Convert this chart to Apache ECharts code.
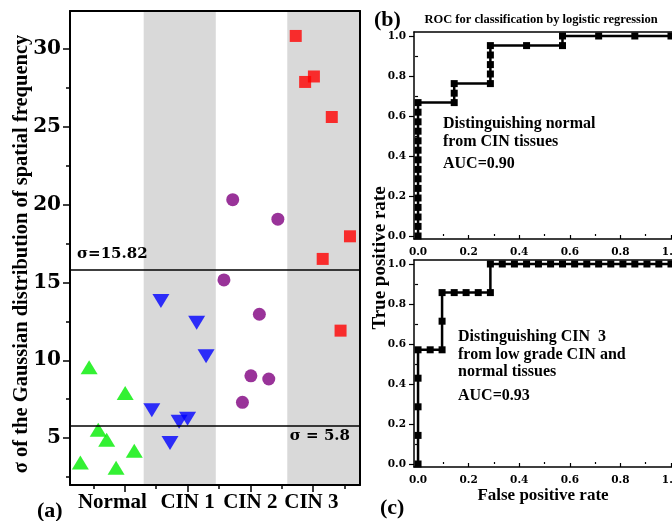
<!DOCTYPE html>
<html>
<head>
<meta charset="utf-8">
<script src="https://cdn.jsdelivr.net/npm/echarts@6/dist/echarts.min.js"></script>
<style>html,body{margin:0;padding:0;background:#fff;}#c{width:672px;height:521px;}</style>
</head>
<body>
<div id="c"></div>
<script>
// ---------- Panel (a) data ----------
const categories = ['Normal', 'CIN 1', 'CIN 2', 'CIN 3'];
const categoryLabelPos = [1.6, 4, 6, 7.95];
const bandEdges = [0.25, 2.6, 4.9, 7.18, 9.5];
const normalX = [0.58, 0.86, 1.15, 1.42, 1.72, 2.01, 2.30];
const normalY = [3.45, 9.55, 5.55, 4.9, 3.1, 7.9, 4.2];
const cin1X = [2.86, 3.15, 3.44, 3.73, 4.00, 4.29, 4.59];
const cin1Y = [6.8, 13.8, 4.7, 6.05, 6.25, 12.4, 10.25];
const cin2X = [5.16, 5.44, 5.75, 6.02, 6.29, 6.59, 6.88];
const cin2Y = [15.15, 20.3, 7.3, 9.0, 12.95, 8.8, 19.05];
const cin3X = [7.45, 7.75, 8.03, 8.31, 8.60, 8.88, 9.18];
const cin3Y = [30.8, 27.85, 28.2, 16.5, 25.6, 11.9, 17.95];
const thresholds = [15.82, 5.8];
const thresholdLabels = ['σ=15.82', 'σ = 5.8'];
const yTicksA = [5, 10, 15, 20, 25, 30];
const yMinorA = [2.5, 7.5, 12.5, 17.5, 22.5, 27.5];
const xTicksA = [2, 4, 6, 8];
const xMinorA = [1, 3, 5, 7, 9];

// ---------- Panel (b)/(c) ROC data ----------
const rocB_fpr = [0,0,0,0,0,0,0,0,0,0,0,0,0,0,0, 0.143,0.143,0.143, 0.286,0.286,0.286,0.286,0.286, 0.429, 0.571,0.571, 0.714, 0.857, 1.0];
const rocB_tpr = [0,0.048,0.095,0.143,0.190,0.238,0.286,0.333,0.381,0.429,0.476,0.524,0.571,0.619,0.667, 0.667,0.714,0.762, 0.762,0.810,0.857,0.905,0.952, 0.952, 0.952,1.0, 1.0, 1.0, 1.0];
const rocC_fpr = [0,0,0,0,0, 0.048, 0.095,0.095,0.095, 0.143,0.190,0.238,0.286,0.286, 0.333,0.381,0.429,0.476,0.524,0.571,0.619,0.667,0.714,0.762,0.810,0.857,0.905,0.952,1.0];
const rocC_tpr = [0,0.143,0.286,0.429,0.571, 0.571, 0.571,0.714,0.857, 0.857,0.857,0.857,0.857,1.0, 1,1,1,1,1,1,1,1,1,1,1,1,1,1,1];
const rocTicks = [0, 0.2, 0.4, 0.6, 0.8, 1.0];
const rocMinor = [0.1, 0.3, 0.5, 0.7, 0.9];
const textB = ['Distinguishing normal', 'from CIN tissues', 'AUC=0.90'];
const textC = ['Distinguishing CIN  3', 'from low grade CIN and', 'normal tissues', 'AUC=0.93'];

const zip = (a, b) => a.map((v, i) => [v, b[i]]);
const SERIF = 'Liberation Serif';
const NUM = 'DejaVu Serif';

const chart = echarts.init(document.getElementById('c'));

function baseAxis(extra) {
  return Object.assign({
    type: 'value', splitLine: { show: false }, z: 10,
    axisLine: { show: false, lineStyle: { color: '#000', width: 1.5 } },
    axisTick: { show: false }, axisLabel: { show: false }
  }, extra);
}

const xAxes = [
  // panel a
  baseAxis({ gridIndex: 0, min: bandEdges[0], max: bandEdges[4], position: 'bottom',
    axisLine: { show: true, onZero: false, lineStyle: { color: '#000', width: 2 } },
    axisTick: { show: true, customValues: xTicksA, length: 7, lineStyle: { color: '#000', width: 1.5 } },
    axisLabel: { show: true, customValues: categoryLabelPos, margin: 7,
      formatter: v => categories[categoryLabelPos.indexOf(v)] || '',
      fontFamily: SERIF, fontWeight: 'bold', fontSize: 21, color: '#000' } }),
  baseAxis({ gridIndex: 0, min: bandEdges[0], max: bandEdges[4], position: 'bottom',
    axisTick: { show: true, customValues: xMinorA, length: 4, lineStyle: { color: '#000', width: 1.5 } } }),
  baseAxis({ gridIndex: 0, min: bandEdges[0], max: bandEdges[4], position: 'top',
    axisLine: { show: true, onZero: false, lineStyle: { color: '#000', width: 2 } } }),
];
const yAxes = [
  baseAxis({ gridIndex: 0, min: 2, max: 32.4, position: 'left',
    axisLine: { show: true, onZero: false, lineStyle: { color: '#000', width: 2 } },
    axisTick: { show: true, customValues: yTicksA, length: 7, lineStyle: { color: '#000', width: 1.5 } },
    axisLabel: { show: true, customValues: yTicksA, margin: 9,
      fontFamily: NUM, fontWeight: 'bold', fontSize: 20, color: '#000' } }),
  baseAxis({ gridIndex: 0, min: 2, max: 32.4, position: 'left',
    axisTick: { show: true, customValues: yMinorA, length: 4, lineStyle: { color: '#000', width: 1.5 } } }),
  baseAxis({ gridIndex: 0, min: 2, max: 32.4, position: 'right',
    axisLine: { show: true, onZero: false, lineStyle: { color: '#000', width: 2 } } }),
];

// ROC axes for grid 1 and 2
[1, 2].forEach(g => {
  const xmin = -0.016, xmax = 1.004, ymin = -0.015, ymax = 1.02;
  xAxes.push(baseAxis({ gridIndex: g, min: xmin, max: xmax, position: 'bottom',
    axisLine: { show: true, onZero: false, lineStyle: { color: '#000', width: 1.5 } },
    axisTick: { show: true, inside: true, customValues: rocTicks, length: 4, lineStyle: { color: '#000', width: 1.2 } },
    axisLabel: { show: true, customValues: rocTicks, margin: 8, formatter: v => v.toFixed(1),
      fontFamily: NUM, fontWeight: 'bold', fontSize: 10.5, color: '#000' },
    name: g === 2 ? 'False positive rate' : '', nameLocation: 'middle', nameGap: 15,
    nameTextStyle: { fontFamily: SERIF, fontWeight: 'bold', fontSize: 17, color: '#000' } }));
  xAxes.push(baseAxis({ gridIndex: g, min: xmin, max: xmax, position: 'bottom',
    axisTick: { show: true, inside: true, customValues: rocMinor, length: 2, lineStyle: { color: '#000', width: 1.2 } } }));
  xAxes.push(baseAxis({ gridIndex: g, min: xmin, max: xmax, position: 'top',
    axisLine: { show: true, onZero: false, lineStyle: { color: '#000', width: 1.5 } } }));
  yAxes.push(baseAxis({ gridIndex: g, min: ymin, max: ymax, position: 'left',
    axisLine: { show: true, onZero: false, lineStyle: { color: '#000', width: 1.5 } },
    axisTick: { show: true, customValues: rocTicks, length: 5, lineStyle: { color: '#000', width: 1.2 } },
    axisLabel: { show: true, customValues: rocTicks, margin: 8, formatter: v => v.toFixed(1),
      fontFamily: NUM, fontWeight: 'bold', fontSize: 10.5, color: '#000' } }));
  yAxes.push(baseAxis({ gridIndex: g, min: ymin, max: ymax, position: 'left',
    axisTick: { show: true, customValues: rocMinor, length: 3, lineStyle: { color: '#000', width: 1.2 } } }));
});

const bands = [];
for (let i = 1; i < 4; i += 2) bands.push([{ xAxis: bandEdges[i] }, { xAxis: bandEdges[i + 1] }]);

const series = [
  { type: 'scatter', xAxisIndex: 0, yAxisIndex: 0, data: [], z: 1, silent: true,
    markArea: { silent: true, itemStyle: { color: '#d9d9d9' }, data: bands },
    markLine: { silent: true, symbol: 'none', lineStyle: { color: '#000', width: 1.6, type: 'solid' },
      data: [
        { yAxis: thresholds[0], label: { formatter: thresholdLabels[0], position: 'insideStartTop', distance: [7, 8] } },
        { yAxis: thresholds[1], label: { formatter: thresholdLabels[1], position: 'insideEndBottom', distance: [10, 3] } }
      ],
      label: { show: true, fontFamily: NUM, fontWeight: 'bold', fontSize: 15, color: '#000' } } },
  { type: 'scatter', xAxisIndex: 0, yAxisIndex: 0, data: zip(normalX, normalY), symbol: 'triangle', symbolSize: [17, 14], itemStyle: { color: '#00ee00' }, z: 3 },
  { type: 'scatter', xAxisIndex: 0, yAxisIndex: 0, data: zip(cin1X, cin1Y), symbol: 'triangle', symbolRotate: 180, symbolSize: [17, 14], itemStyle: { color: '#0000ff' }, z: 3 },
  { type: 'scatter', xAxisIndex: 0, yAxisIndex: 0, data: zip(cin2X, cin2Y), symbol: 'circle', symbolSize: 13, itemStyle: { color: '#800080' }, z: 3 },
  { type: 'scatter', xAxisIndex: 0, yAxisIndex: 0, data: zip(cin3X, cin3Y), symbol: 'rect', symbolSize: 12, itemStyle: { color: '#ff0000' }, z: 3 },
  { type: 'line', xAxisIndex: 3, yAxisIndex: 3, data: zip(rocB_fpr, rocB_tpr), symbol: 'rect', symbolSize: 7,
    lineStyle: { color: '#000', width: 2.5 }, itemStyle: { color: '#000' }, clip: false, z: 3 },
  { type: 'line', xAxisIndex: 6, yAxisIndex: 5, data: zip(rocC_fpr, rocC_tpr), symbol: 'rect', symbolSize: 7,
    lineStyle: { color: '#000', width: 2.5 }, itemStyle: { color: '#000' }, clip: false, z: 3 }
];

const txt = (x, y, text, size, extra) => Object.assign({ type: 'text', x, y, silent: true,
  style: Object.assign({ text, fontFamily: SERIF, fontWeight: 'bold', fontSize: size, fill: '#000',
    textAlign: 'left', textVerticalAlign: 'middle' }, extra || {}) });

const graphics = [
  Object.assign(txt(22, 254, 'σ of the Gaussian distribution of spatial frequency', 20.5, { textAlign: 'center' }), { rotation: Math.PI / 2 }),
  Object.assign(txt(380, 258, 'True positive rate', 19, { textAlign: 'center' }), { rotation: Math.PI / 2 }),
  txt(37, 511, '(a)', 22),
  txt(374, 20, '(b)', 22),
  txt(380, 508, '(c)', 22),
  txt(541, 20, 'ROC for classification by logistic regression', 12.5, { textAlign: 'center' }),
  txt(443, 124, textB[0], 16), txt(443, 142, textB[1], 16), txt(443, 164, textB[2], 16),
  txt(458, 337, textC[0], 16), txt(458, 355, textC[1], 16), txt(458, 372, textC[2], 16), txt(458, 396, textC[3], 16)
];

chart.setOption({
  animation: false,
  backgroundColor: '#fff',
  grid: [
    { left: 70, top: 11, width: 290, height: 474, outerBoundsMode: 'none', containLabel: false },
    { left: 414, top: 32, right: 0, height: 207, outerBoundsMode: 'none', containLabel: false },
    { left: 414, top: 260, right: 0, height: 207, outerBoundsMode: 'none', containLabel: false }
  ],
  xAxis: xAxes,
  yAxis: yAxes,
  series,
  graphic: graphics
});
</script>
</body>
</html>
